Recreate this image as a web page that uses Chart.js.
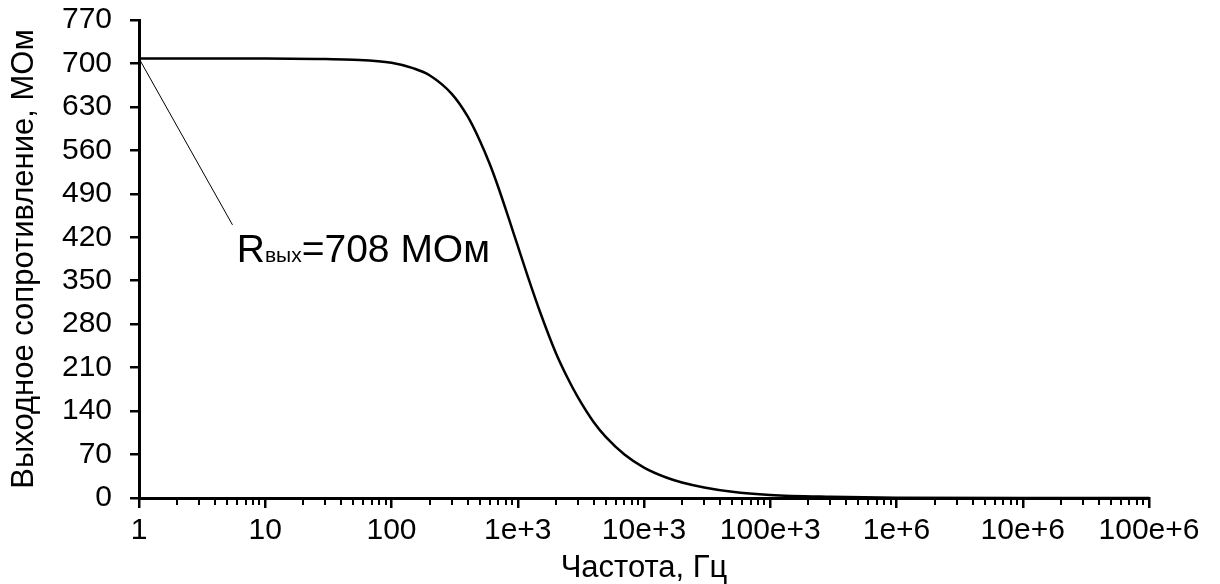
<!DOCTYPE html>
<html>
<head>
<meta charset="utf-8">
<script src="https://cdn.jsdelivr.net/npm/chart.js@4.4.1/dist/chart.umd.min.js"></script>
<style>
  html, body { margin: 0; padding: 0; background: #fff; }
  #wrap { width: 1220px; height: 584px; }
</style>
</head>
<body>
<div id="wrap"><canvas id="chart" width="1220" height="584"></canvas></div>
<script>
// frequency, Hz
const freq = [1, 10, 30, 50, 100, 150, 200, 300, 400, 500, 600, 700, 850, 1000, 1200, 1500,
    2000, 2500, 3000, 4000, 5000, 7000, 10000, 15000, 20000, 30000, 50000, 100000,
    300000, 1000000, 10000000, 100000000];
// output resistance, MOhm
const resistance = [708, 708, 707, 706, 701, 692, 681, 651, 615, 576, 538, 501, 450, 406, 357, 300,
    234, 192, 162, 122, 98, 70, 49, 33, 25, 17, 10, 5,
    2, 0.5, 0, 0];

const xTickLabels = ['1', '10', '100', '1e+3', '10e+3', '100e+3', '1e+6', '10e+6', '100e+6'];
const yTickValues = [0, 70, 140, 210, 280, 350, 420, 490, 560, 630, 700, 770];

// annotation: leader line from (1, 708) to label
const noteFrom = [1, 708];
const noteTo = [5.5, 440];
const noteAt = [5.95, 380];

const FONT = "'Liberation Sans', Arial, sans-serif";

// all ticks on the log axis: 1..9 in every decade
const xTicks = [];
for (let k = 0; k < 8; k++) {
    for (let m = 1; m < 10; m++) xTicks.push(m * Math.pow(10, k));
}
xTicks.push(1e8);

const isDecade = v => Math.abs(Math.log10(v) - Math.round(Math.log10(v))) < 1e-9;

const extraDraw = {
    id: 'extraDraw',
    afterDatasetsDraw(chart) {
        const ctx = chart.ctx;
        const xs = chart.scales.x, ys = chart.scales.y;
        // minor ticks
        ctx.save();
        ctx.strokeStyle = '#000';
        ctx.lineWidth = 2;
        const y0 = ys.getPixelForValue(0);
        xTicks.forEach(v => {
            if (isDecade(v)) return;
            const px = Math.round(xs.getPixelForValue(v));
            ctx.beginPath();
            ctx.moveTo(px, y0);
            ctx.lineTo(px, y0 + 7);
            ctx.stroke();
        });
        // leader line
        ctx.lineWidth = 1;
        ctx.beginPath();
        ctx.moveTo(xs.getPixelForValue(noteFrom[0]), ys.getPixelForValue(noteFrom[1]));
        ctx.lineTo(xs.getPixelForValue(noteTo[0]), ys.getPixelForValue(noteTo[1]));
        ctx.stroke();
        // label
        let tx = xs.getPixelForValue(noteAt[0]);
        const ty = ys.getPixelForValue(noteAt[1]);
        ctx.fillStyle = '#000';
        ctx.textBaseline = 'alphabetic';
        ctx.textAlign = 'left';
        ctx.font = '39px ' + FONT;
        ctx.fillText('R', tx, ty);
        tx += ctx.measureText('R').width;
        ctx.font = '21px ' + FONT;
        ctx.fillText('вых', tx, ty);
        tx += ctx.measureText('вых').width;
        ctx.font = '39px ' + FONT;
        ctx.fillText('=708 МОм', tx, ty);
        ctx.restore();
    }
};

new Chart(document.getElementById('chart'), {
    type: 'line',
    data: {
        datasets: [{
            label: 'Rвых',
            data: freq.map((f, i) => ({ x: f, y: resistance[i] })),
            borderColor: '#000',
            borderWidth: 2.5,
            pointRadius: 0,
            cubicInterpolationMode: 'monotone',
            fill: false
        }]
    },
    options: {
        responsive: false,
        animation: false,
        layout: {
            padding: { top: 20, right: 71, left: 0, bottom: 0 }
        },
        scales: {
            x: {
                type: 'logarithmic',
                min: 1,
                max: 1e8,
                afterBuildTicks: scale => {
                    scale.ticks = xTicks.map(v => ({ value: v, major: isDecade(v) }));
                },
                afterFit: scale => {
                    scale.height = 86;
                    scale.paddingLeft = 0;
                    scale.paddingRight = 0;
                },
                ticks: {
                    autoSkip: false,
                    maxRotation: 0,
                    padding: 5,
                    color: '#000',
                    font: { family: FONT, size: 30 },
                    callback: v => isDecade(v) ? xTickLabels[Math.round(Math.log10(v))] : ''
                },
                grid: {
                    drawOnChartArea: false,
                    drawTicks: true,
                    tickLength: 10,
                    lineWidth: 2.5,
                    color: c => (c.tick && isDecade(c.tick.value)) ? '#000' : 'rgba(0,0,0,0)'
                },
                border: { display: true, color: '#000', width: 3 },
                title: {
                    display: true,
                    text: 'Частота, Гц',
                    color: '#000',
                    padding: 0,
                    font: { family: FONT, size: 31, lineHeight: 1.0 }
                }
            },
            y: {
                min: 0,
                max: 770,
                afterBuildTicks: scale => {
                    scale.ticks = yTickValues.map(v => ({ value: v }));
                },
                afterFit: scale => {
                    scale.width = 139;
                    scale.paddingTop = 0;
                    scale.paddingBottom = 0;
                },
                ticks: {
                    padding: 18,
                    color: '#000',
                    font: { family: FONT, size: 30 }
                },
                grid: {
                    drawOnChartArea: false,
                    drawTicks: true,
                    tickLength: 9,
                    lineWidth: 2.5,
                    color: '#000'
                },
                border: { display: true, color: '#000', width: 3 },
                title: {
                    display: true,
                    text: 'Выходное сопротивление, МОм',
                    color: '#000',
                    padding: { top: 6, bottom: 0 },
                    font: { family: FONT, size: 31, lineHeight: 1.2 }
                }
            }
        },
        plugins: {
            legend: { display: false },
            tooltip: { enabled: false }
        }
    },
    plugins: [extraDraw]
});
</script>
</body>
</html>
